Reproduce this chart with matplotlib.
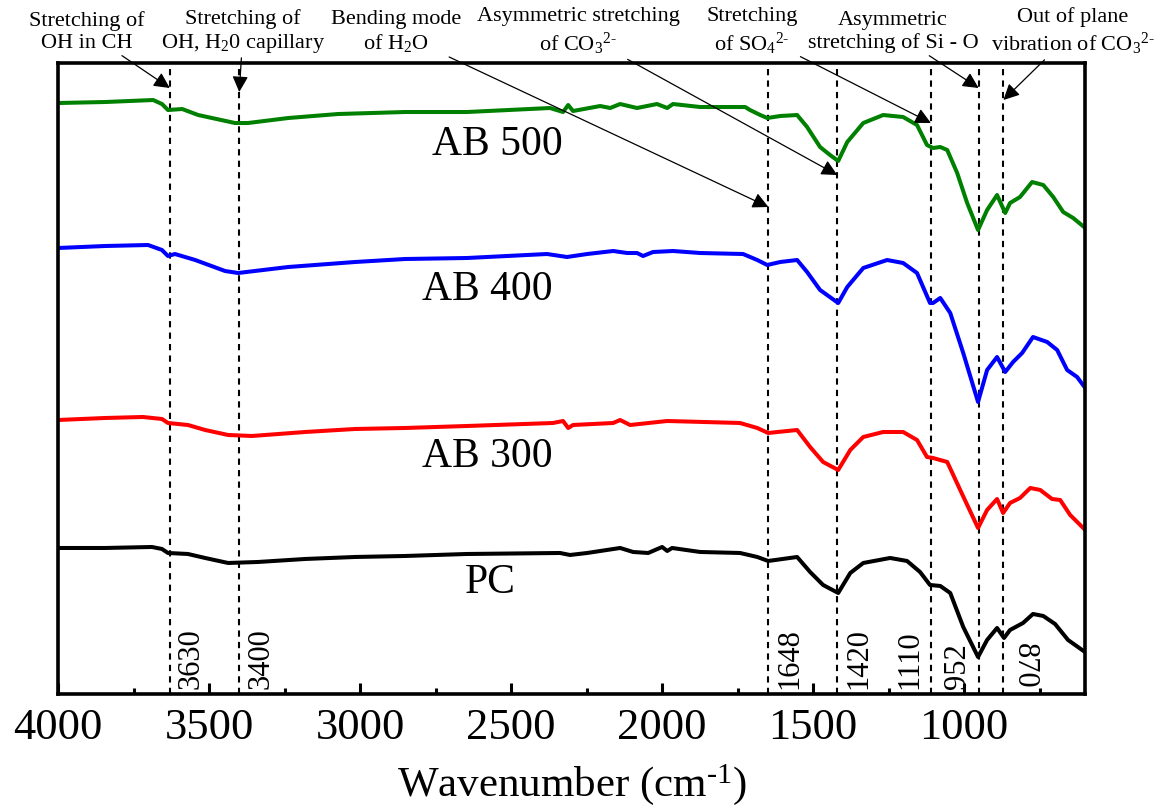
import matplotlib
matplotlib.use("Agg")
import matplotlib.pyplot as plt

# FTIR spectra (y values in arbitrary units, larger = lower on plot)
wn_ab500 = [4000, 3844, 3685, 3656, 3636, 3589, 3536, 3414, 3371, 3238, 3073, 2851, 2646,
            2371, 2328, 2311, 2295, 2205, 2172, 2139, 2083, 2017, 1983, 1964, 1874, 1725,
            1709, 1675, 1652, 1609, 1553, 1520, 1477, 1444, 1417, 1387, 1334, 1268, 1202,
            1156, 1123, 1103, 1079, 1056, 1023, 990, 954, 924, 891, 864, 848, 815, 775,
            738, 705, 672, 639, 599]
y_ab500 = [103, 102, 100, 104, 110, 109, 115, 123, 123, 118, 114, 112, 112,
           108, 112, 105, 111, 106, 108, 104, 108, 104, 108, 104, 107, 107,
           110, 115, 118, 116, 115, 127, 147, 155, 161, 142, 123, 115, 117,
           125, 145, 148, 147, 150, 173, 203, 230, 210, 195, 213, 203, 197, 182,
           185, 197, 212, 218, 228]

wn_ab400 = [4000, 3844, 3702, 3656, 3636, 3613, 3546, 3447, 3404, 3238, 3017, 2851, 2646,
            2381, 2315, 2248, 2162, 2116, 2083, 2063, 2030, 1964, 1874, 1732, 1685, 1652,
            1609, 1553, 1520, 1477, 1417, 1387, 1334, 1255, 1202, 1156, 1113, 1103, 1079,
            1046, 1003, 954, 924, 891, 864, 838, 808, 772, 725, 692, 659, 626, 599]
y_ab400 = [248, 246, 245, 250, 256, 254, 260, 271, 273, 267, 262, 259, 258,
           254, 257, 254, 251, 253, 253, 256, 252, 251, 253, 254, 260, 265,
           262, 260, 272, 290, 303, 287, 268, 260, 263, 273, 303, 303, 298,
           313, 353, 402, 370, 357, 372, 362, 353, 337, 342, 350, 370, 377, 388]

wn_ab300 = [4000, 3844, 3719, 3656, 3636, 3570, 3513, 3437, 3358, 3182, 3017, 2851, 2646,
            2361, 2328, 2311, 2295, 2162, 2139, 2106, 1983, 1742, 1685, 1649, 1553, 1510,
            1467, 1417, 1377, 1334, 1268, 1202, 1156, 1123, 1103, 1056, 1013, 954, 924,
            891, 871, 848, 815, 781, 748, 709, 682, 649, 599]
y_ab300 = [420, 418, 417, 419, 423, 425, 430, 435, 436, 432, 429, 428, 426,
           423, 421, 428, 425, 423, 420, 425, 421, 423, 428, 433, 430, 447,
           462, 470, 450, 437, 432, 432, 440, 457, 458, 462, 490, 528, 510,
           499, 513, 503, 498, 488, 490, 499, 500, 515, 530]

wn_pc = [4000, 3844, 3689, 3656, 3636, 3570, 3513, 3437, 3338, 3182, 3017, 2851, 2646,
         2338, 2305, 2248, 2139, 2096, 2046, 2000, 1983, 1967, 1874, 1742, 1685, 1649,
         1553, 1510, 1467, 1417, 1377, 1334, 1245, 1189, 1146, 1113, 1079, 1046, 1003,
         954, 924, 891, 868, 848, 805, 772, 738, 699, 656, 600]
y_pc = [548, 548, 547, 549, 553, 554, 558, 563, 562, 559, 557, 556, 554,
        553, 555, 553, 548, 552, 553, 547, 551, 548, 552, 553, 557, 561,
        557, 572, 585, 593, 573, 563, 558, 561, 572, 585, 586, 593, 627,
        657, 640, 628, 638, 630, 623, 614, 616, 624, 640, 652]

peaks = [3630, 3400, 1648, 1420, 1110, 952, 870]

series_names = ["AB 500", "AB 400", "AB 300", "PC"]
series_colors = ["green", "blue", "red", "black"]

assignments = [
    "Stretching of\nOH in CH",
    "Stretching of\nOH, H$_2$0 capillary",
    "Bending mode\nof H$_2$O",
    "Asymmetric stretching\nof CO$_3$$^{2\\text{-}}$",
    "Stretching\nof SO$_4$$^{2\\text{-}}$",
    "Asymmetric\nstretching of Si - O",
    "Out of plane\nvibration of CO$_3$$^{2\\text{-}}$",
]

plt.rcParams['font.family'] = ['Liberation Serif', 'DejaVu Serif']
plt.rcParams['mathtext.fontset'] = 'custom'
plt.rcParams['mathtext.rm'] = 'Liberation Serif'
plt.rcParams['mathtext.it'] = 'Liberation Serif:italic'

fig = plt.figure(figsize=(11.61, 8.11), dpi=100)
ax = fig.add_axes([0.050, 0.1443, 0.8845, 0.778])

xs = [wn_ab500, wn_ab400, wn_ab300, wn_pc]
ys = [y_ab500, y_ab400, y_ab300, y_pc]
for x, y, c in zip(xs, ys, series_colors):
    ax.plot(x, y, color=c, lw=2.9, solid_joinstyle='round')

for p in peaks:
    ax.axvline(p, color='black', lw=1.5, linestyle=(0, (3, 2.5)), zorder=1)

ax.set_xlim(4000, 600)
ax.set_ylim(694, 63)
ax.set_yticks([])
ax.set_xticks([4000, 3500, 3000, 2500, 2000, 1500, 1000])
ax.set_xticks([3750, 3250, 2750, 2250, 1750, 1250, 750], minor=True)
ax.tick_params(axis='x', which='major', direction='in', length=8, width=2.2,
               labelsize=32, pad=10)
ax.tick_params(axis='x', which='minor', direction='in', length=4, width=2.2)
for s in ax.spines.values():
    s.set_linewidth(2.6)
ax.set_xlabel("Wavenumber (cm$^{\\text{-1}}$)", fontsize=31, labelpad=10)

# sample labels
label_pos = [(0.4275, 0.870), (0.418, 0.640), (0.418, 0.3756), (0.421, 0.176)]
for name, (lx, ly) in zip(series_names, label_pos):
    ax.text(lx, ly, name, transform=ax.transAxes, fontsize=30,
            ha='center', va='center')

# peak position labels along the bottom
num_side = [('left', 90), ('left', 90), ('left', 90), ('left', 90),
            ('right', 90), ('right', 90), ('left', 270)]
for p, (side, rot) in zip(peaks, num_side):
    dx = 5 if side == 'left' else -5
    ax.annotate(str(p), xy=(p, 0.008), xycoords=ax.get_xaxis_transform(),
                xytext=(dx, 0), textcoords='offset points',
                rotation=rot, ha=side, va='bottom', fontsize=22)

# assignment annotations with arrows
text_xy = [(87, 32), (243, 32), (396, 32), (578, 32), (752, 32), (893, 32), (1073, 32)]
tip_y = [88, 92, 207, 175, 123, 88, 100]
for txt, (tx, ty), p, yy in zip(assignments, text_xy, peaks, tip_y):
    ax.annotate(txt, xy=(p, yy), xycoords='data',
                xytext=(tx / 1161, 1 - ty / 811), textcoords='figure fraction',
                ha='center', va='center', fontsize=16, linespacing=1.2,
                annotation_clip=False,
                arrowprops=dict(arrowstyle='-|>', color='black', lw=0.9,
                                mutation_scale=24, shrinkA=0, shrinkB=0))

fig.savefig("out.png", dpi=100)
